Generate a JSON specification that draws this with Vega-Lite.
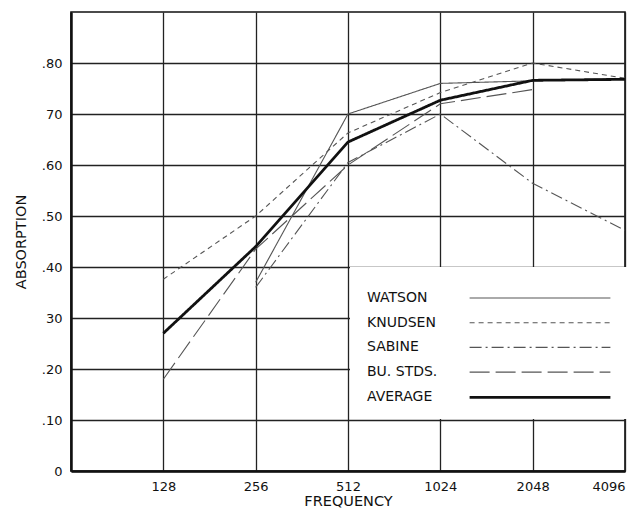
{
  "$schema": "https://vega.github.io/schema/vega-lite/v6.json",
  "width": 554,
  "height": 459,
  "autosize": {"type": "none"},
  "padding": {"left": 71, "top": 12, "right": 7, "bottom": 39},
  "background": "white",
  "config": {
    "view": {"stroke": "#111", "strokeWidth": 1.6},
    "font": "DejaVu Sans",
    "axis": {
      "domainColor": "#111",
      "domainWidth": 2.5,
      "gridColor": "#222",
      "gridWidth": 1.3,
      "gridOpacity": 1,
      "ticks": false,
      "labelFont": "DejaVu Sans",
      "labelFontSize": 13,
      "labelColor": "#111",
      "titleFont": "DejaVu Sans",
      "titleFontSize": 14.5,
      "titleFontWeight": "normal",
      "titleColor": "#111"
    },
    "legend": {
      "title": " ",
      "titleFontSize": 5,
      "titlePadding": 3,
      "orient": "none",
      "legendX": 279,
      "legendY": 255,
      "fillColor": "white",
      "strokeColor": null,
      "padding": 14,
      "symbolType": "M-8.8,0H8.8",
      "symbolSize": 256,
      "symbolOffset": 166.5,
      "labelOffset": -182.5,
      "rowPadding": 8.7,
      "labelFont": "DejaVu Sans",
      "labelFontSize": 14,
      "labelColor": "#111"
    }
  },
  "data": {
    "values": [
      {"source": "WATSON", "freq": 256, "absorption": 0.37},
      {"source": "WATSON", "freq": 512, "absorption": 0.70},
      {"source": "WATSON", "freq": 1024, "absorption": 0.76},
      {"source": "WATSON", "freq": 2048, "absorption": 0.765},
      {"source": "WATSON", "freq": 4096, "absorption": 0.77},
      {"source": "KNUDSEN", "freq": 128, "absorption": 0.376},
      {"source": "KNUDSEN", "freq": 256, "absorption": 0.50},
      {"source": "KNUDSEN", "freq": 512, "absorption": 0.663},
      {"source": "KNUDSEN", "freq": 1024, "absorption": 0.742},
      {"source": "KNUDSEN", "freq": 2048, "absorption": 0.80},
      {"source": "KNUDSEN", "freq": 4096, "absorption": 0.77},
      {"source": "SABINE", "freq": 256, "absorption": 0.36},
      {"source": "SABINE", "freq": 512, "absorption": 0.605},
      {"source": "SABINE", "freq": 1024, "absorption": 0.70},
      {"source": "SABINE", "freq": 2048, "absorption": 0.564},
      {"source": "SABINE", "freq": 4096, "absorption": 0.472},
      {"source": "BU. STDS.", "freq": 128, "absorption": 0.18},
      {"source": "BU. STDS.", "freq": 256, "absorption": 0.435},
      {"source": "BU. STDS.", "freq": 512, "absorption": 0.60},
      {"source": "BU. STDS.", "freq": 1024, "absorption": 0.72},
      {"source": "BU. STDS.", "freq": 2048, "absorption": 0.748},
      {"source": "AVERAGE", "freq": 128, "absorption": 0.27},
      {"source": "AVERAGE", "freq": 256, "absorption": 0.44},
      {"source": "AVERAGE", "freq": 512, "absorption": 0.645},
      {"source": "AVERAGE", "freq": 1024, "absorption": 0.727},
      {"source": "AVERAGE", "freq": 2048, "absorption": 0.766},
      {"source": "AVERAGE", "freq": 4096, "absorption": 0.768}
    ]
  },
  "mark": {"type": "line", "strokeJoin": "miter"},
  "encoding": {
    "x": {
      "field": "freq",
      "type": "quantitative",
      "scale": {"type": "log", "base": 2, "domain": [64, 4096], "nice": false},
      "axis": {
        "values": [128, 256, 512, 1024, 2048, 4096],
        "format": "d",
        "labelPadding": 9,
        "labelAlign": {"condition": {"test": "datum.value == 4096", "value": "right"}, "value": "center"},
        "title": "FREQUENCY",
        "titlePadding": 1
      }
    },
    "y": {
      "field": "absorption",
      "type": "quantitative",
      "scale": {"domain": [0, 0.9], "nice": false},
      "axis": {
        "values": [0, 0.1, 0.2, 0.3, 0.4, 0.5, 0.6, 0.7, 0.8],
        "labelExpr": "datum.value == 0 ? '0' : datum.value == 0.7 ? '70' : datum.value == 0.3 ? '30' : replace(format(datum.value, '.2f'), '0.', '.')",
        "labelPadding": 9,
        "title": "ABSORPTION",
        "titlePadding": 13
      }
    },
    "strokeDash": {
      "field": "source",
      "type": "nominal",
      "scale": {
        "domain": ["WATSON", "KNUDSEN", "SABINE", "BU. STDS.", "AVERAGE"],
        "range": [[1, 0], [5, 4], [12, 4, 2, 4], [20, 6], [1, 0]]
      },
      "legend": {"title": " "}
    },
    "strokeWidth": {
      "field": "source",
      "type": "nominal",
      "scale": {
        "type": "ordinal",
        "domain": ["WATSON", "KNUDSEN", "SABINE", "BU. STDS.", "AVERAGE"],
        "range": [1.1, 1.1, 1.1, 1.1, 2.8]
      },
      "legend": {"title": " "}
    },
    "color": {
      "field": "source",
      "type": "nominal",
      "scale": {
        "domain": ["WATSON", "KNUDSEN", "SABINE", "BU. STDS.", "AVERAGE"],
        "range": ["#555", "#555", "#555", "#555", "#111"]
      },
      "legend": {"title": " "}
    }
  }
}
